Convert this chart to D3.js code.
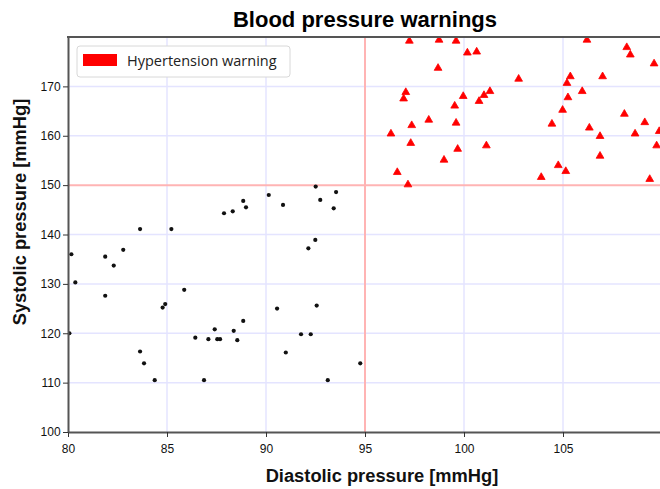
<!DOCTYPE html>
<html>
<head>
<meta charset="utf-8">
<script src="https://cdn.jsdelivr.net/npm/d3@7"></script>
<style>
  html, body { margin: 0; padding: 0; background: #fff; }
  svg { display: block; }
</style>
</head>
<body>
<svg id="chart" width="660" height="489"></svg>
<script>
// ---- Data ----
const normalDiastolic = [80.07, 80.17, 80.37, 81.88, 81.88, 82.31, 82.79, 83.64, 83.64, 83.84, 84.38, 84.78, 84.91, 85.22, 85.87, 86.43, 86.87, 87.09, 87.41, 87.54, 87.68, 87.88, 88.32, 88.37, 88.55, 88.85, 88.85, 88.99, 90.14, 90.56, 90.86, 91.0, 91.77, 92.14, 92.26, 92.51, 92.49, 92.56, 92.74, 93.12, 93.42, 93.54, 94.76];
const normalSystolic  = [120.0, 136.0, 130.3, 135.5, 127.6, 133.7, 136.9, 141.1, 116.3, 113.9, 110.5, 125.2, 125.9, 141.1, 128.8, 119.1, 110.5, 118.8, 120.8, 118.8, 118.8, 144.3, 144.7, 120.5, 118.6, 122.5, 146.8, 145.5, 148.0, 125.0, 146.0, 116.1, 119.8, 137.2, 119.8, 149.7, 138.9, 125.6, 147.0, 110.5, 145.3, 148.6, 113.9];

const warnDiastolic = [97.24, 98.74, 99.6, 100.17, 100.64, 98.69, 97.06, 96.95, 99.96, 101.31, 101.01, 100.76, 99.53, 98.22, 97.36, 99.6, 96.31, 97.31, 99.68, 101.13, 98.99, 96.63, 97.17, 106.21, 108.22, 108.4, 109.6, 102.76, 105.37, 107.0, 105.2, 105.97, 105.25, 104.98, 104.44, 108.1, 109.13, 109.86, 106.33, 106.87, 108.64, 109.73, 106.87, 104.76, 105.14, 103.9, 109.38];
const warnSystolic  = [179.2, 179.4, 179.2, 176.8, 177.0, 173.7, 168.8, 167.5, 168.0, 169.0, 168.2, 167.0, 166.05, 163.2, 162.1, 162.6, 160.4, 158.5, 157.3, 158.0, 155.1, 152.6, 150.1, 179.4, 177.9, 176.4, 174.6, 171.5, 172.0, 172.0, 170.65, 169.0, 167.75, 165.2, 162.4, 164.4, 162.7, 160.9, 161.6, 159.9, 160.4, 158.0, 155.9, 154.0, 152.8, 151.6, 151.2];

const xTicks = [80, 85, 90, 95, 100, 105];
const yTicks = [100, 110, 120, 130, 140, 150, 160, 170];
const thresholdDiastolic = 95;
const thresholdSystolic = 150;
const titleText = "Blood pressure warnings";
const xLabel = "Diastolic pressure [mmHg]";
const yLabel = "Systolic pressure [mmHg]";
const legendLabel = "Hypertension warning";

// ---- Layout ----
const svg = d3.select("#chart");
const pL = 68, pR = 662, pT = 37, pB = 432;
const x = d3.scaleLinear().domain([80, 110]).range([pL, pR]);
const y = d3.scaleLinear().domain([100, 180]).range([pB, pT]);

svg.append("defs").append("clipPath").attr("id", "plotclip")
  .append("rect").attr("x", pL).attr("y", pT).attr("width", pR - pL).attr("height", pB - pT);

// grid
const grid = svg.append("g");
grid.selectAll("line.gx").data(xTicks.filter(d => d !== 80 && d !== thresholdDiastolic)).join("line")
  .attr("x1", d => x(d)).attr("x2", d => x(d)).attr("y1", pT).attr("y2", pB)
  .attr("stroke", "#e4e4ff").attr("stroke-width", 1.5);
grid.selectAll("line.gy").data(yTicks.filter(d => d !== 100 && d !== thresholdSystolic)).join("line")
  .attr("x1", pL).attr("x2", pR).attr("y1", d => y(d)).attr("y2", d => y(d))
  .attr("stroke", "#e4e4ff").attr("stroke-width", 1.5);

// threshold lines
svg.append("line").attr("x1", x(thresholdDiastolic)).attr("x2", x(thresholdDiastolic))
  .attr("y1", pT).attr("y2", pB).attr("stroke", "#ffb4b4").attr("stroke-width", 2);
svg.append("line").attr("x1", pL).attr("x2", pR)
  .attr("y1", y(thresholdSystolic)).attr("y2", y(thresholdSystolic)).attr("stroke", "#ffb4b4").attr("stroke-width", 2);

// points
const pts = svg.append("g").attr("clip-path", "url(#plotclip)");
const normal = normalDiastolic.map((d, i) => [d, normalSystolic[i]]);
pts.selectAll("circle").data(normal).join("circle")
  .attr("cx", d => x(d[0])).attr("cy", d => y(d[1])).attr("r", 2.1).attr("fill", "#111");

const warn = warnDiastolic.map((d, i) => [d, warnSystolic[i]]);
const tri = d3.symbol().type(d3.symbolTriangle).size(26);
pts.selectAll("path.w").data(warn).join("path")
  .attr("transform", d => `translate(${x(d[0])},${y(d[1])})`)
  .attr("d", tri).attr("fill", "#ff0000").attr("stroke", "#ff0000").attr("stroke-width", 0.8).attr("stroke-linejoin", "round");

// axes
const xAxis = d3.axisBottom(x).tickValues(xTicks).tickSize(5).tickSizeOuter(0).tickFormat(d3.format("d"));
const yAxis = d3.axisLeft(y).tickValues(yTicks).tickSize(5).tickSizeOuter(0).tickFormat(d3.format("d"));
const gx = svg.append("g").attr("transform", `translate(0,${pB})`).call(xAxis);
const gy = svg.append("g").attr("transform", `translate(${pL},0)`).call(yAxis);
[gx, gy].forEach(g => {
  g.select(".domain").attr("stroke", "#555").attr("stroke-width", 2);
  g.selectAll(".tick line").attr("stroke", "#333").attr("stroke-width", 1);
  g.selectAll(".tick text").attr("font-family", "Liberation Sans, Arial, sans-serif").attr("font-size", 12).attr("fill", "#111");
});
gx.selectAll(".tick text").attr("dy", "1.1em");
gy.selectAll(".tick text").attr("dx", "0.05em");

// top border
svg.append("line").attr("x1", pL - 1).attr("x2", pR).attr("y1", pT).attr("y2", pT)
  .attr("stroke", "#555").attr("stroke-width", 2);

// title & labels
svg.append("text").attr("x", 365).attr("y", 27).attr("text-anchor", "middle")
  .attr("font-family", "Liberation Sans, Arial, sans-serif").attr("font-weight", "bold").attr("font-size", 22)
  .attr("fill", "#000").text(titleText);
svg.append("text").attr("x", 382).attr("y", 482).attr("text-anchor", "middle")
  .attr("font-family", "Liberation Sans, Arial, sans-serif").attr("font-weight", "bold").attr("font-size", 18.3)
  .attr("fill", "#111").text(xLabel);
svg.append("text").attr("transform", `translate(26,212) rotate(-90)`).attr("text-anchor", "middle")
  .attr("font-family", "Liberation Sans, Arial, sans-serif").attr("font-weight", "bold").attr("font-size", 18.3)
  .attr("fill", "#111").text(yLabel);

// legend
const lg = svg.append("g");
lg.append("rect").attr("x", 77).attr("y", 46).attr("width", 213).attr("height", 31).attr("rx", 3)
  .attr("fill", "#fff").attr("stroke", "#d8d8d8").attr("stroke-width", 1);
lg.append("rect").attr("x", 83).attr("y", 54).attr("width", 34).attr("height", 12).attr("fill", "#ff0000");
lg.append("text").attr("x", 127).attr("y", 66).attr("font-family", "Open Sans, sans-serif").attr("font-size", 14.5)
  .attr("fill", "#222").text(legendLabel);
</script>
</body>
</html>
